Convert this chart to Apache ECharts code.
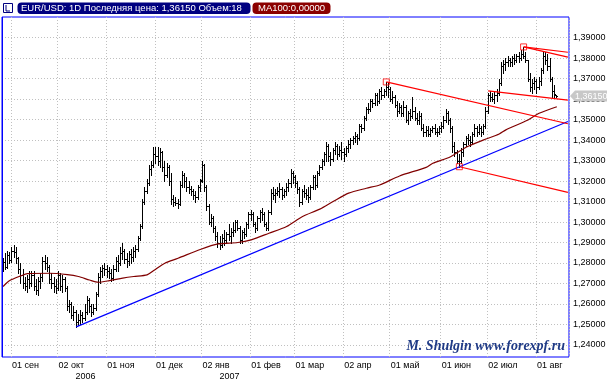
<!DOCTYPE html>
<html>
<head>
<meta charset="utf-8">
<script src="https://cdn.jsdelivr.net/npm/echarts@6/dist/echarts.min.js"></script>
<style>
html,body{margin:0;padding:0;background:#fff;}
#chart{width:615px;height:381px;}
</style>
</head>
<body>
<div id="chart"></div>
<script>
// ---------- DATA ----------
// trading days: weekdays from 2006-08-28, 2007-01-01 not traded
const firstDay = '2006-08-28';
const skippedDays = ['2007-01-01'];
const dayCount = 256;
const monthNames = ['янв','фев','мар','апр','май','июн','июл','авг','сен','окт','ноя','дек'];
const yearLabels = {'2006-10-02': '2006', '2007-01-02': '2007'};
const yTicks = [1.24,1.25,1.26,1.27,1.28,1.29,1.30,1.31,1.32,1.33,1.34,1.35,1.36,1.37,1.38,1.39];
const yMin = 1.2341, yMax = 1.4001;

const opens = [
1.2790,1.2805,1.2780,1.2840,1.2815,1.2860,1.2855,1.2825,1.2770,1.2740,
1.2700,1.2690,1.2720,1.2700,1.2740,1.2690,1.2670,1.2710,1.2730,1.2810,
1.2800,1.2780,1.2720,1.2700,1.2690,1.2680,1.2740,1.2690,1.2720,1.2680,
1.2590,1.2600,1.2545,1.2560,1.2510,1.2520,1.2545,1.2530,1.2560,1.2620,
1.2590,1.2560,1.2580,1.2650,1.2730,1.2760,1.2775,1.2770,1.2760,1.2750,
1.2725,1.2770,1.2810,1.2800,1.2850,1.2860,1.2820,1.2810,1.2845,1.2830,
1.2860,1.2870,1.2920,1.2980,1.3100,1.3150,1.3190,1.3260,1.3280,1.3330,
1.3320,1.3300,1.3340,1.3270,1.3230,1.3270,1.3200,1.3110,1.3100,1.3095,
1.3090,1.3180,1.3230,1.3200,1.3170,1.3160,1.3150,1.3130,1.3120,1.3170,
1.3205,1.3280,1.3170,1.3080,1.3000,1.3020,1.2970,1.2930,1.2900,1.2890,
1.2920,1.2910,1.2940,1.2930,1.2950,1.2960,1.3000,1.2970,1.2910,1.2950,
1.2940,1.2990,1.3040,1.3040,1.2990,1.2970,1.3020,1.3050,1.3040,1.2990,
1.2970,1.3050,1.3140,1.3130,1.3140,1.3150,1.3160,1.3130,1.3150,1.3170,
1.3190,1.3240,1.3220,1.3190,1.3160,1.3100,1.3150,1.3140,1.3130,1.3120,
1.3170,1.3220,1.3180,1.3240,1.3270,1.3300,1.3330,1.3370,1.3320,1.3310,
1.3350,1.3370,1.3330,1.3350,1.3340,1.3330,1.3360,1.3380,1.3400,1.3410,
1.3420,1.3410,1.3470,1.3460,1.3510,1.3550,1.3550,1.3590,1.3580,1.3620,
1.3590,1.3640,1.3620,1.3640,1.3660,1.3650,1.3600,1.3610,1.3570,1.3540,
1.3560,1.3530,1.3560,1.3500,1.3530,1.3520,1.3540,1.3510,1.3500,1.3520,
1.3460,1.3440,1.3450,1.3430,1.3450,1.3460,1.3440,1.3440,1.3460,1.3470,
1.3500,1.3530,1.3500,1.3460,1.3370,1.3340,1.3300,1.3300,1.3340,1.3380,
1.3410,1.3400,1.3390,1.3430,1.3460,1.3440,1.3460,1.3440,1.3470,1.3540,
1.3620,1.3610,1.3600,1.3620,1.3630,1.3680,1.3760,1.3770,1.3780,1.3790,
1.3780,1.3800,1.3790,1.3810,1.3800,1.3820,1.3810,1.3790,1.3700,1.3660,
1.3680,1.3690,1.3660,1.3690,1.3740,1.3810,1.3790,1.3760,1.3700,1.3640,
1.3620];
const highs = [
1.2825,1.2850,1.2860,1.2855,1.2880,1.2890,1.2880,1.2830,1.2800,1.2770,
1.2730,1.2740,1.2760,1.2760,1.2760,1.2720,1.2730,1.2750,1.2830,1.2840,
1.2830,1.2790,1.2750,1.2730,1.2720,1.2760,1.2750,1.2740,1.2730,1.2690,
1.2620,1.2610,1.2590,1.2570,1.2550,1.2570,1.2560,1.2600,1.2640,1.2630,
1.2600,1.2600,1.2660,1.2750,1.2780,1.2790,1.2800,1.2790,1.2780,1.2770,
1.2790,1.2830,1.2840,1.2880,1.2900,1.2870,1.2850,1.2860,1.2870,1.2880,
1.2890,1.2930,1.2990,1.3110,1.3170,1.3210,1.3280,1.3300,1.3367,1.3365,
1.3365,1.3360,1.3345,1.3300,1.3290,1.3280,1.3240,1.3130,1.3120,1.3110,
1.3200,1.3250,1.3240,1.3220,1.3200,1.3175,1.3160,1.3150,1.3180,1.3210,
1.3300,1.3285,1.3180,1.3090,1.3040,1.3030,1.2980,1.2950,1.2930,1.2940,
1.2960,1.2950,1.2990,1.2970,1.3000,1.3010,1.3010,1.2980,1.2960,1.2970,
1.3000,1.3050,1.3060,1.3050,1.3000,1.3030,1.3060,1.3070,1.3050,1.3000,
1.3060,1.3160,1.3170,1.3160,1.3170,1.3190,1.3170,1.3160,1.3190,1.3210,
1.3260,1.3250,1.3230,1.3200,1.3170,1.3160,1.3180,1.3160,1.3170,1.3180,
1.3230,1.3230,1.3250,1.3280,1.3310,1.3340,1.3390,1.3380,1.3340,1.3360,
1.3390,1.3380,1.3370,1.3390,1.3360,1.3370,1.3400,1.3410,1.3420,1.3440,
1.3430,1.3480,1.3480,1.3520,1.3560,1.3580,1.3600,1.3600,1.3630,1.3630,
1.3650,1.3660,1.3650,1.3684,1.3680,1.3660,1.3640,1.3620,1.3590,1.3580,
1.3570,1.3590,1.3570,1.3540,1.3550,1.3610,1.3560,1.3530,1.3540,1.3530,
1.3480,1.3470,1.3470,1.3460,1.3470,1.3480,1.3460,1.3470,1.3490,1.3520,
1.3550,1.3540,1.3510,1.3470,1.3390,1.3350,1.3330,1.3360,1.3390,1.3420,
1.3430,1.3420,1.3440,1.3480,1.3470,1.3480,1.3470,1.3480,1.3560,1.3630,
1.3640,1.3630,1.3640,1.3650,1.3700,1.3780,1.3790,1.3800,1.3810,1.3800,
1.3810,1.3820,1.3820,1.3830,1.3840,1.3855,1.3830,1.3790,1.3730,1.3700,
1.3710,1.3700,1.3710,1.3750,1.3830,1.3830,1.3820,1.3800,1.3710,1.3670,
1.3622];
const lows = [
1.2760,1.2770,1.2775,1.2800,1.2805,1.2830,1.2800,1.2750,1.2700,1.2680,
1.2670,1.2660,1.2680,1.2690,1.2670,1.2650,1.2645,1.2680,1.2710,1.2770,
1.2760,1.2700,1.2680,1.2660,1.2655,1.2670,1.2670,1.2660,1.2665,1.2570,
1.2560,1.2530,1.2520,1.2488,1.2495,1.2500,1.2510,1.2520,1.2550,1.2560,
1.2540,1.2550,1.2570,1.2640,1.2700,1.2730,1.2740,1.2730,1.2725,1.2710,
1.2715,1.2760,1.2760,1.2790,1.2820,1.2800,1.2780,1.2790,1.2800,1.2810,
1.2830,1.2860,1.2910,1.2970,1.3090,1.3140,1.3180,1.3230,1.3270,1.3290,
1.3280,1.3270,1.3250,1.3200,1.3220,1.3180,1.3090,1.3080,1.3085,1.3070,
1.3085,1.3170,1.3170,1.3150,1.3140,1.3130,1.3110,1.3100,1.3110,1.3150,
1.3195,1.3150,1.3060,1.2990,1.2980,1.2950,1.2910,1.2880,1.2870,1.2880,
1.2890,1.2900,1.2910,1.2900,1.2930,1.2950,1.2960,1.2900,1.2900,1.2920,
1.2930,1.2970,1.3010,1.2980,1.2950,1.2960,1.3000,1.3010,1.2980,1.2960,
1.2960,1.3040,1.3110,1.3100,1.3130,1.3120,1.3110,1.3120,1.3130,1.3150,
1.3170,1.3190,1.3170,1.3140,1.3080,1.3090,1.3120,1.3110,1.3100,1.3110,
1.3160,1.3160,1.3170,1.3230,1.3260,1.3280,1.3300,1.3300,1.3280,1.3300,
1.3330,1.3310,1.3320,1.3310,1.3300,1.3320,1.3340,1.3360,1.3380,1.3390,
1.3380,1.3400,1.3440,1.3450,1.3500,1.3530,1.3540,1.3560,1.3570,1.3570,
1.3580,1.3600,1.3610,1.3620,1.3610,1.3590,1.3580,1.3560,1.3520,1.3530,
1.3520,1.3520,1.3490,1.3480,1.3500,1.3510,1.3500,1.3480,1.3480,1.3450,
1.3420,1.3420,1.3420,1.3420,1.3440,1.3430,1.3420,1.3430,1.3440,1.3460,
1.3490,1.3480,1.3440,1.3340,1.3320,1.3290,1.3270,1.3290,1.3320,1.3370,
1.3380,1.3370,1.3380,1.3420,1.3420,1.3430,1.3420,1.3430,1.3460,1.3530,
1.3590,1.3590,1.3580,1.3590,1.3620,1.3670,1.3730,1.3740,1.3760,1.3760,
1.3760,1.3770,1.3780,1.3780,1.3790,1.3800,1.3780,1.3690,1.3640,1.3630,
1.3650,1.3630,1.3650,1.3670,1.3730,1.3770,1.3740,1.3690,1.3610,1.3610,
1.3612];
const closes = [
1.2805,1.2780,1.2840,1.2815,1.2860,1.2855,1.2825,1.2770,1.2740,1.2700,
1.2690,1.2720,1.2700,1.2740,1.2690,1.2670,1.2710,1.2730,1.2810,1.2800,
1.2780,1.2720,1.2700,1.2690,1.2680,1.2740,1.2690,1.2720,1.2680,1.2590,
1.2600,1.2545,1.2560,1.2510,1.2520,1.2545,1.2530,1.2560,1.2620,1.2590,
1.2560,1.2580,1.2650,1.2730,1.2760,1.2775,1.2770,1.2760,1.2750,1.2725,
1.2770,1.2810,1.2800,1.2850,1.2860,1.2820,1.2810,1.2845,1.2830,1.2860,
1.2870,1.2920,1.2980,1.3100,1.3150,1.3190,1.3260,1.3280,1.3330,1.3320,
1.3300,1.3340,1.3270,1.3230,1.3270,1.3200,1.3110,1.3100,1.3095,1.3090,
1.3180,1.3230,1.3200,1.3170,1.3160,1.3150,1.3130,1.3120,1.3170,1.3200,
1.3280,1.3170,1.3080,1.3000,1.3020,1.2970,1.2930,1.2900,1.2890,1.2920,
1.2910,1.2940,1.2930,1.2950,1.2960,1.3000,1.2970,1.2910,1.2950,1.2940,
1.2990,1.3040,1.3040,1.2990,1.2970,1.3020,1.3050,1.3040,1.2990,1.2970,
1.3050,1.3140,1.3130,1.3140,1.3150,1.3160,1.3130,1.3150,1.3170,1.3190,
1.3240,1.3220,1.3190,1.3160,1.3100,1.3150,1.3140,1.3130,1.3120,1.3170,
1.3220,1.3180,1.3240,1.3270,1.3300,1.3330,1.3370,1.3320,1.3310,1.3350,
1.3370,1.3330,1.3350,1.3340,1.3330,1.3360,1.3380,1.3400,1.3410,1.3420,
1.3410,1.3470,1.3460,1.3510,1.3550,1.3550,1.3590,1.3580,1.3620,1.3590,
1.3640,1.3620,1.3640,1.3660,1.3650,1.3600,1.3610,1.3570,1.3540,1.3560,
1.3530,1.3560,1.3500,1.3530,1.3520,1.3540,1.3510,1.3500,1.3520,1.3460,
1.3440,1.3450,1.3430,1.3450,1.3460,1.3440,1.3440,1.3460,1.3470,1.3500,
1.3530,1.3500,1.3460,1.3370,1.3340,1.3300,1.3300,1.3340,1.3380,1.3410,
1.3400,1.3390,1.3430,1.3460,1.3440,1.3460,1.3440,1.3470,1.3540,1.3620,
1.3610,1.3600,1.3620,1.3630,1.3680,1.3760,1.3770,1.3780,1.3790,1.3780,
1.3800,1.3790,1.3810,1.3800,1.3820,1.3810,1.3790,1.3700,1.3660,1.3680,
1.3690,1.3660,1.3690,1.3740,1.3810,1.3790,1.3760,1.3700,1.3640,1.3625,
1.3615];

// MA100: [trading-day index, value]
const ma100 = [
[0,1.2685],[3,1.2714],[8,1.2737],[11,1.2748],[21,1.2750],[29,1.2743],[34,1.2734],
[39,1.2717],[43,1.2706],[48,1.2714],[54,1.2726],[59,1.2734],[65,1.2742],[68,1.2763],
[73,1.2799],[79,1.2823],[89,1.2866],[97,1.2893],[106,1.2900],[112,1.2913],[120,1.2945],
[128,1.2978],[135,1.3026],[143,1.3063],[149,1.3100],[156,1.3141],[164,1.3165],[170,1.3181],
[179,1.3225],[191,1.3267],[194,1.3287],[202,1.3319],[209,1.3365],[217,1.3401],[224,1.3430],
[227,1.3450],[237,1.3498],[242,1.3531],[250,1.3563]];

// drawn trend lines: [index, value] endpoints
const blueTrend = [[33,1.2488],[255,1.3491]];
const redTrends = [
  [[173,1.3684],[255,1.3480]],
  [[206,1.3270],[255,1.3145]],
  [[219,1.3640],[255,1.3595]],
  [[235,1.3855],[255,1.3829]],
  [[235,1.3855],[255,1.3805]]
];
const pivotPoints = [[173,1.3684],[206,1.3270],[235,1.3855]];

// ---------- BUILD ----------
const dates = [];
(function(){
  const d = new Date(firstDay + 'T00:00:00Z');
  while (dates.length < dayCount) {
    const wd = d.getUTCDay();
    const s = d.toISOString().slice(0,10);
    if (wd !== 0 && wd !== 6 && skippedDays.indexOf(s) < 0) dates.push(s);
    d.setUTCDate(d.getUTCDate() + 1);
  }
})();
const monthStart = dates.map((s,i) => i > 0 && s.slice(5,7) !== dates[i-1].slice(5,7));
function dateLabel(s) {
  const m = monthNames[parseInt(s.slice(5,7),10)-1];
  let t = '{m|' + s.slice(8,10) + ' ' + m + '}';
  if (yearLabels[s]) t += '\n{y|' + yearLabels[s] + '}';
  return t;
}
const ohlc = opens.map((o,i) => [i, o, highs[i], lows[i], closes[i]]);
const fmt = v => v.toFixed(5).replace('.', ',');
const lastPrice = closes[closes.length-1];

function renderOHLC(params, api) {
  const i = api.value(0);
  const pO = api.coord([i, api.value(1)]);
  const pH = api.coord([i, api.value(2)]);
  const pL = api.coord([i, api.value(3)]);
  const pC = api.coord([i, api.value(4)]);
  const x = Math.floor(pO[0]);
  const yo = Math.round(pO[1]) + 0.5, yc = Math.round(pC[1]) + 0.5;
  const st = {stroke: '#000', lineWidth: 1};
  return {type: 'group', children: [
    {type: 'line', shape: {x1: x + 0.5, y1: Math.round(pH[1]), x2: x + 0.5, y2: Math.round(pL[1]) + 1}, style: st},
    {type: 'line', shape: {x1: x - 1, y1: yo, x2: x, y2: yo}, style: st},
    {type: 'line', shape: {x1: x + 1, y1: yc, x2: x + 2, y2: yc}, style: st}
  ]};
}

const FONT = '"Liberation Sans", Arial, sans-serif';
const series = [
  {type: 'custom', name: 'EURUSD', data: ohlc, renderItem: renderOHLC,
   encode: {x: 0, y: [1,2,3,4]}, z: 3, silent: true, clip: true},
  {type: 'line', name: 'MA100', data: ma100, showSymbol: false, smooth: 0.25,
   lineStyle: {color: '#800000', width: 1.2}, z: 4, silent: true},
  {type: 'line', data: blueTrend, showSymbol: false, lineStyle: {color: '#0000ff', width: 1.2}, z: 5, silent: true}
];
redTrends.forEach(seg => series.push({type: 'line', data: seg, showSymbol: false,
  lineStyle: {color: '#ff0000', width: 1.2}, z: 5, silent: true}));
series.push({type: 'scatter', data: pivotPoints, symbol: 'rect', symbolSize: 6,
  itemStyle: {color: 'rgba(0,0,0,0)', borderColor: '#ff0000', borderWidth: 1}, z: 6, silent: true});

const chart = echarts.init(document.getElementById('chart'), null, {renderer: 'canvas'});
chart.setOption({
  animation: false,
  backgroundColor: '#fff',
  textStyle: {fontFamily: FONT},
  grid: {left: 2, top: 17, width: 567, height: 340, show: true, borderColor: '#0000ff', borderWidth: 1, containLabel: false},
  xAxis: {
    type: 'category', data: dates, boundaryGap: true,
    axisLine: {show: false}, axisTick: {show: false},
    axisLabel: {
      interval: (i) => monthStart[i], formatter: (v) => dateLabel(v),
      align: 'left', margin: 3, color: '#000', fontSize: 9, fontFamily: FONT,
      rich: {m: {fontSize: 9, lineHeight: 11, color: '#000', fontFamily: FONT},
             y: {fontSize: 9, lineHeight: 11, color: '#000', fontFamily: FONT, padding: [0,0,0,17]}}
    },
    splitLine: {show: true, interval: (i) => monthStart[i], lineStyle: {color: '#c0c0c0', type: [1,2], width: 1}}
  },
  yAxis: {
    type: 'value', position: 'right', min: yMin, max: yMax, scale: true,
    axisLine: {show: false},
    axisTick: {show: false, customValues: yTicks},
    axisLabel: {customValues: yTicks, formatter: fmt, align: 'left', margin: 4, color: '#000', fontSize: 9, fontFamily: FONT},
    splitLine: {show: true, lineStyle: {color: '#c0c0c0', type: [1,2], width: 1}}
  },
  series: series
});

// overlay decorations (price tag positioned through the y scale)
const tagY = chart.convertToPixel({yAxisIndex: 0}, lastPrice);
chart.setOption({graphic: [
  {type: 'rect', shape: {x: 2, y: 17, width: 1, height: 340}, style: {fill: '#0000ff'}, z: 100},
  {type: 'rect', shape: {x: 3.5, y: 3.5, width: 9, height: 9}, style: {fill: '#fff', stroke: '#000080', lineWidth: 1}, z: 100},
  {type: 'polyline', shape: {points: [[6,5],[6,11],[10,11]]}, style: {stroke: '#000080', lineWidth: 1, fill: null}, z: 101},
  {type: 'rect', shape: {x: 17.5, y: 2.5, width: 233, height: 11.5, r: 4}, style: {fill: '#000080'}, z: 100},
  {type: 'text', x: 21, y: 8.5, style: {text: 'EUR/USD: 1D Последняя цена: ' + fmt(lastPrice) + ' Объем:18', fill: '#fff', font: '9.5px ' + FONT, verticalAlign: 'middle'}, z: 101},
  {type: 'rect', shape: {x: 252.5, y: 2.5, width: 78, height: 11.5, r: 4}, style: {fill: '#8b0000'}, z: 100},
  {type: 'text', x: 258, y: 8.5, style: {text: 'MA100:0,00000', fill: '#fff', font: '9.5px ' + FONT, verticalAlign: 'middle'}, z: 101},
  {type: 'text', x: 565, y: 346, style: {text: 'M. Shulgin www.forexpf.ru', fill: '#1f3a86', font: 'italic bold 14px "Liberation Serif", serif', align: 'right', verticalAlign: 'middle'}, z: 100},
  {type: 'polygon', shape: {points: [[570, tagY], [575, tagY-5.5], [607, tagY-5.5], [607, tagY+5.5], [575, tagY+5.5]]}, style: {fill: '#c8c8c8'}, z: 100},
  {type: 'text', x: 575, y: tagY, style: {text: fmt(lastPrice), fill: '#fff', font: '9px ' + FONT, verticalAlign: 'middle'}, z: 101}
]});
</script>
</body>
</html>
